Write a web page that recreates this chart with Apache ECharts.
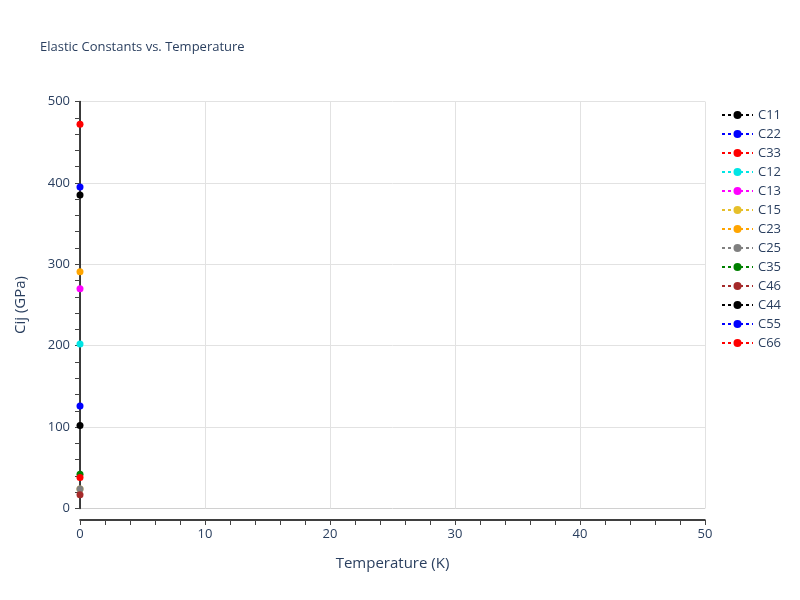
<!DOCTYPE html>
<html>
<head>
<meta charset="utf-8">
<script src="https://cdn.jsdelivr.net/npm/echarts@6/dist/echarts.min.js"></script>
<style>
    html, body { margin: 0; padding: 0; background: #fff; }
    #ET1 { width: 800px; height: 600px; }
</style>
</head>
<body>
<div id="ET1"></div>
<script>
// chart data
var names = ['C11', 'C22', 'C33', 'C12', 'C13', 'C15', 'C23', 'C25', 'C35', 'C46', 'C44', 'C55', 'C66'];
var temps = [0];
var C11 = [385];
var C22 = [395];
var C33 = [472];
var C12 = [202];
var C13 = [270];
var C15 = [24];
var C23 = [291];
var C25 = [24];
var C35 = [42];
var C46 = [17];
var C44 = [102];
var C55 = [126];
var C66 = [38];
var values = [C11, C22, C33, C12, C13, C15, C23, C25, C35, C46, C44, C55, C66];
var colors = ['#000000', '#0000ff', '#ff0000', '#00e5e5', '#ff00ff', '#e6bf2a', '#ffa500',
    '#808080', '#008000', '#a52a2a', '#000000', '#0000ff', '#ff0000'];
var xTicks = [0, 50, 10];
var yTicks = [0, 500, 100];

~function () {
    var myChart = echarts.init(ET1);
    var textColor = '#2a3f5f';
    var series = names.map(function (name, i) {
        return {
            name: name,
            type: 'line',
            data: temps.map(function (t, j) { return [t, values[i][j]]; }),
            symbol: 'circle',
            symbolSize: 7,
            showSymbol: true,
            itemStyle: {color: colors[i]},
            lineStyle: {color: colors[i], type: [3, 3], width: 2},
            z: 3 + i
        };
    });
    var option = {
        textStyle: {fontFamily: '"Open Sans", verdana, arial, sans-serif'},
        title: {
            text: 'Elastic Constants vs. Temperature',
            left: 35,
            top: 36,
            textStyle: {fontSize: 13, fontWeight: 'normal', color: textColor}
        },
        legend: {
            orient: 'vertical',
            left: 716,
            top: 101,
            itemWidth: 31,
            itemHeight: 10,
            itemGap: 1,
            textStyle: {fontSize: 13, color: textColor, lineHeight: 18},
            data: names
        },
        grid: {
            left: 80,
            right: 95,
            top: 101.5,
            bottom: 91.5,
            containLabel: false
        },
        xAxis: {
            type: 'value',
            min: xTicks[0],
            max: xTicks[1],
            interval: xTicks[2],
            offset: 11.5,
            name: 'Temperature (K)',
            nameLocation: 'middle',
            nameGap: 36,
            nameTextStyle: {fontSize: 15, color: textColor},
            axisLine: {show: true, onZero: false, lineStyle: {color: '#000', width: 1.5}},
            axisTick: {show: true, inside: false, length: 5, lineStyle: {color: '#444'}},
            minorTick: {show: true, splitNumber: 5, length: 5, lineStyle: {color: '#444'}},
            axisLabel: {fontSize: 13, color: textColor, margin: 8},
            splitLine: {show: true, lineStyle: {color: '#e2e2e2', width: 1}}
        },
        yAxis: {
            type: 'value',
            min: yTicks[0],
            max: yTicks[1],
            interval: yTicks[2],
            name: 'Cij (GPa)',
            nameLocation: 'middle',
            nameGap: 52,
            nameTextStyle: {fontSize: 15, color: textColor},
            axisLine: {show: true, lineStyle: {color: '#000', width: 1.5}},
            axisTick: {show: true, inside: false, length: 5, lineStyle: {color: '#444'}},
            minorTick: {show: true, splitNumber: 5, length: 5, lineStyle: {color: '#444'}},
            axisLabel: {fontSize: 13, color: textColor, margin: 10},
            splitLine: {
                show: true,
                lineStyle: {color: ['#d0d0d0', '#e2e2e2', '#e2e2e2', '#e2e2e2', '#e2e2e2', '#e2e2e2'], width: 1}
            }
        },
        series: series
    };
    myChart.setOption(option);
}();
</script>
</body>
</html>
